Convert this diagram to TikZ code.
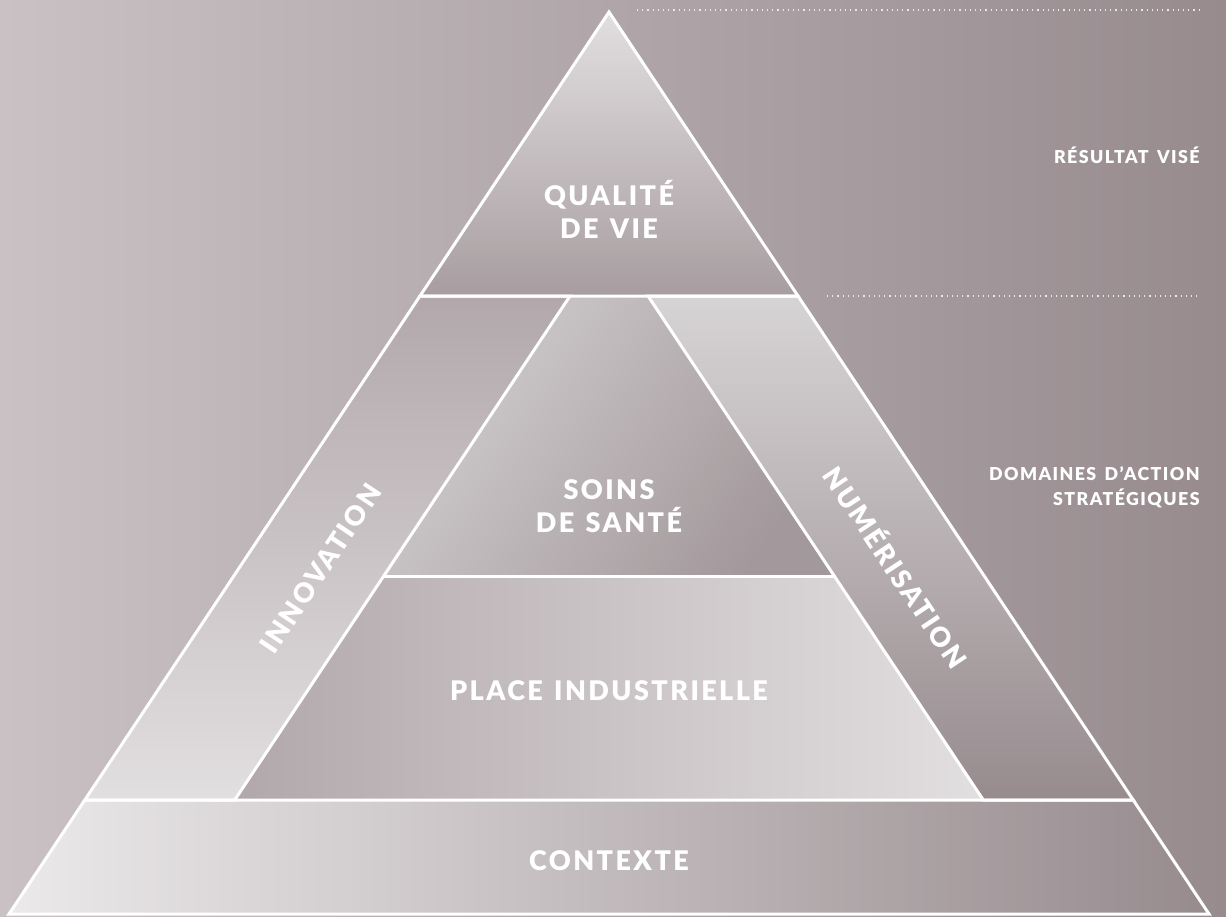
\documentclass[tikz,border=0pt]{standalone}
\usepackage{fontspec}
\setmainfont{Lato}
\newfontfamily\tierfont[LetterSpace=9, WordSpace=1.3, BoldFont={Lato Black}]{Lato}
\newfontfamily\sidefont[LetterSpace=8, WordSpace=1.5, BoldFont={Lato Black}]{Lato}
\usetikzlibrary{positioning}

\definecolor{bgleft}{RGB}{201,193,196}
\definecolor{bgright}{RGB}{151,139,142}
\definecolor{palest}{RGB}{235,233,234}
\definecolor{pale}{RGB}{226,223,224}
\definecolor{midtone}{RGB}{178,168,171}
\definecolor{deeptone}{RGB}{163,152,155}

\begin{document}
\begin{tikzpicture}[
  x=0.5pt, y=-0.5pt,
  edge/.style={draw=white, line width=1.5pt, line join=miter},
  tier/.style={text=white, align=center, inner sep=0pt,
    font=\tierfont\bfseries\fontsize{13.5}{16.5}\selectfont},
  band/.style={text=white, inner sep=0pt,
    font=\tierfont\bfseries\fontsize{13.5}{16.5}\selectfont},
  side/.style={text=white, align=right, anchor=east, inner sep=0pt,
    font=\sidefont\bfseries\fontsize{8.9}{12.5}\selectfont},
  guide/.style={draw=white!80!bgright, line width=0.6pt, dotted}
]
  \shade [left color=bgleft, right color=bgright] (0,0) rectangle (1226,916);
  \useasboundingbox (0,0) rectangle (1226,916);

  \coordinate (apex) at (609,12);
  \coordinate (ol1) at (420,296);
  \coordinate (or1) at (798,296);
  \coordinate (il1) at (570,296);
  \coordinate (ir1) at (648,296);
  \coordinate (il2) at (383.7,576);
  \coordinate (ir2) at (834.3,576);
  \coordinate (il3) at (234.7,800);
  \coordinate (ir3) at (983.3,800);
  \coordinate (ol3) at (84.8,800);
  \coordinate (or3) at (1133.2,800);
  \coordinate (bl) at (9,914);
  \coordinate (br) at (1209,914);

  \shade [top color=pale, bottom color=deeptone!95!white] (apex) -- (ol1) -- (or1) -- cycle;
  \shade [top color=midtone, bottom color=pale] (ol1) -- (il1) -- (il3) -- (ol3) -- cycle;
  \shade [top color=pale!95!black, bottom color=bgright] (ir1) -- (or1) -- (or3) -- (ir3) -- cycle;
  \shade [top color=pale!92!black, bottom color=deeptone, shading angle=55] (il1) -- (ir1) -- (ir2) -- (il2) -- cycle;
  \shade [left color=midtone, right color=pale] (il2) -- (ir2) -- (ir3) -- (il3) -- cycle;
  \shade [left color=palest, right color=bgright] (ol3) -- (or3) -- (br) -- (bl) -- cycle;

  \draw [edge] (apex) -- (ol1) -- (or1) -- cycle;
  \draw [edge] (ol1) -- (il1) -- (il3) -- (ol3) -- cycle;
  \draw [edge] (ir1) -- (or1) -- (or3) -- (ir3) -- cycle;
  \draw [edge] (il2) -- (ir2);
  \draw [edge] (ol3) -- (or3) -- (br) -- (bl) -- cycle;

  \draw [guide] (637,10) -- (1200,10);
  \draw [guide] (827,296) -- (1200,296);

  \node (qualite) [tier] at (609,209) {QUALITÉ\\DE VIE};
  \node (soins) [tier] at (609,506) {SOINS\\DE SANTÉ};
  \node (place) [tier, anchor=base] at (609,700) {PLACE INDUSTRIELLE};
  \node (contexte) [tier, anchor=base] at (609,870) {CONTEXTE};
  \node (innovation) [band, rotate=56.4] at (320.5,568.5) {INNOVATION};
  \node (numerisation) [band, rotate=-56.4] at (897,566.5) {NUMÉRISATION};

  \node (resultat) [side, anchor=base east] at (1200,163) {RÉSULTAT VISÉ};
  \node (domaines) [side] at (1200,487) {DOMAINES D’ACTION\\STRATÉGIQUES};
\end{tikzpicture}
\end{document}
